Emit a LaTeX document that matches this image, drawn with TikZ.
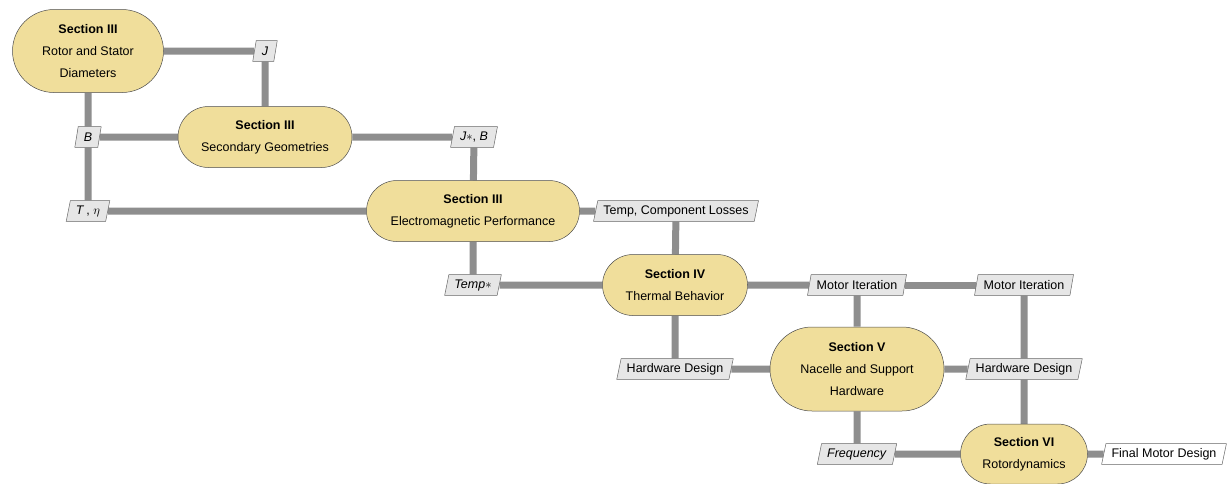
\documentclass[tikz,border=0pt]{standalone}
\usepackage{fontspec}
\setmainfont{Liberation Sans}
\usepackage{amsmath,amssymb}
\usetikzlibrary{shapes,positioning}
\pgfdeclarelayer{background}
\pgfsetlayers{background,main}
\definecolor{secyellow}{HTML}{F0DE9B}
\definecolor{linkgray}{HTML}{8E8E8E}
\definecolor{parfill}{HTML}{E6E6E6}
\tikzset{
  section/.style={rounded rectangle, draw=black!70, fill=secyellow, thin, align=center, font=\normalsize, inner sep=2pt},
  param/.style={trapezium, trapezium left angle=73, trapezium right angle=107, trapezium stretches body,
    draw=black!60, fill=parfill, thin, minimum height=16.5pt, inner xsep=4.5pt, inner ysep=1pt, font=\normalsize},
  link/.style={draw=linkgray, line width=5.6pt}
}
\newcommand\sect[1]{\textbf{#1}\\[5.5pt]}
\begin{document}
\begin{tikzpicture}[x=0.8pt,y=-0.8pt]
\useasboundingbox (0,0) rectangle (1231,483);
%%%%% section nodes:
\node[section, minimum width=124.8pt, minimum height=66.4pt] (rotor) at (88,51)
  {\sect{Section III}Rotor and Stator\\[5.5pt]Diameters};
\node[section, minimum width=143.2pt, minimum height=48.8pt] (secgeo) at (265,137)
  {\sect{Section III}Secondary Geometries};
\node[section, minimum width=174.4pt, minimum height=48.8pt] (emperf) at (473,211)
  {\sect{Section III}Electromagnetic Performance};
\node[section, minimum width=120pt, minimum height=48.8pt] (thermal) at (675,285)
  {\sect{Section IV}Thermal Behavior};
\node[section, minimum width=143.2pt, minimum height=67.2pt] (nacelle) at (857,369)
  {\sect{Section V}Nacelle and Support\\[5.5pt]Hardware};
\node[section, minimum width=105.6pt, minimum height=48pt] (rotordyn) at (1024,454)
  {\sect{Section VI}Rotordynamics};
%%%%% parameters:
\node[param] (J) at (265,51) {\textit{J}};
\node[param] (B) at (88,137) {\textit{B}};
\node[param] (JB) at (474,137) {\textit{J}$\ast$, \textit{B}};
\node[param] (Teta) at (88,211) {\textit{T}\,, $\eta$};
\node[param] (tempcl) at (676,211) {Temp, Component Losses};
\node[param] (temp) at (473,285) {\textit{Temp}$\ast$};
\node[param] (iterA) at (857,285) {Motor Iteration};
\node[param] (iterB) at (1024,285) {Motor Iteration};
\node[param] (hwA) at (675,369) {Hardware Design};
\node[param] (hwB) at (1024,369) {Hardware Design};
\node[param] (freq) at (857,454) {\textit{Frequency}};
\node[param, fill=white] (final) at (1164,454) {Final Motor Design};
%%%%% connectors:
\begin{pgfonlayer}{background}
\draw[link] (rotor) -- (J);
\draw[link] (J) -- (secgeo);
\draw[link] (rotor) -- (B);
\draw[link] (B) -- (secgeo);
\draw[link] (B) -- (Teta);
\draw[link] (secgeo) -- (JB);
\draw[link] (JB) -- (emperf);
\draw[link] (Teta) -- (emperf);
\draw[link] (emperf) -- (tempcl);
\draw[link] (tempcl) -- (thermal);
\draw[link] (emperf) -- (temp);
\draw[link] (temp) -- (thermal);
\draw[link] (thermal) -- (iterA);
\draw[link] (iterA) -- (iterB);
\draw[link] (iterA) -- (nacelle);
\draw[link] (thermal) -- (hwA);
\draw[link] (hwA) -- (nacelle);
\draw[link] (nacelle) -- (hwB);
\draw[link] (iterB) -- (hwB);
\draw[link] (hwB) -- (rotordyn);
\draw[link] (nacelle) -- (freq);
\draw[link] (freq) -- (rotordyn);
\draw[link] (rotordyn) -- (final);
\end{pgfonlayer}
\end{tikzpicture}
\end{document}
